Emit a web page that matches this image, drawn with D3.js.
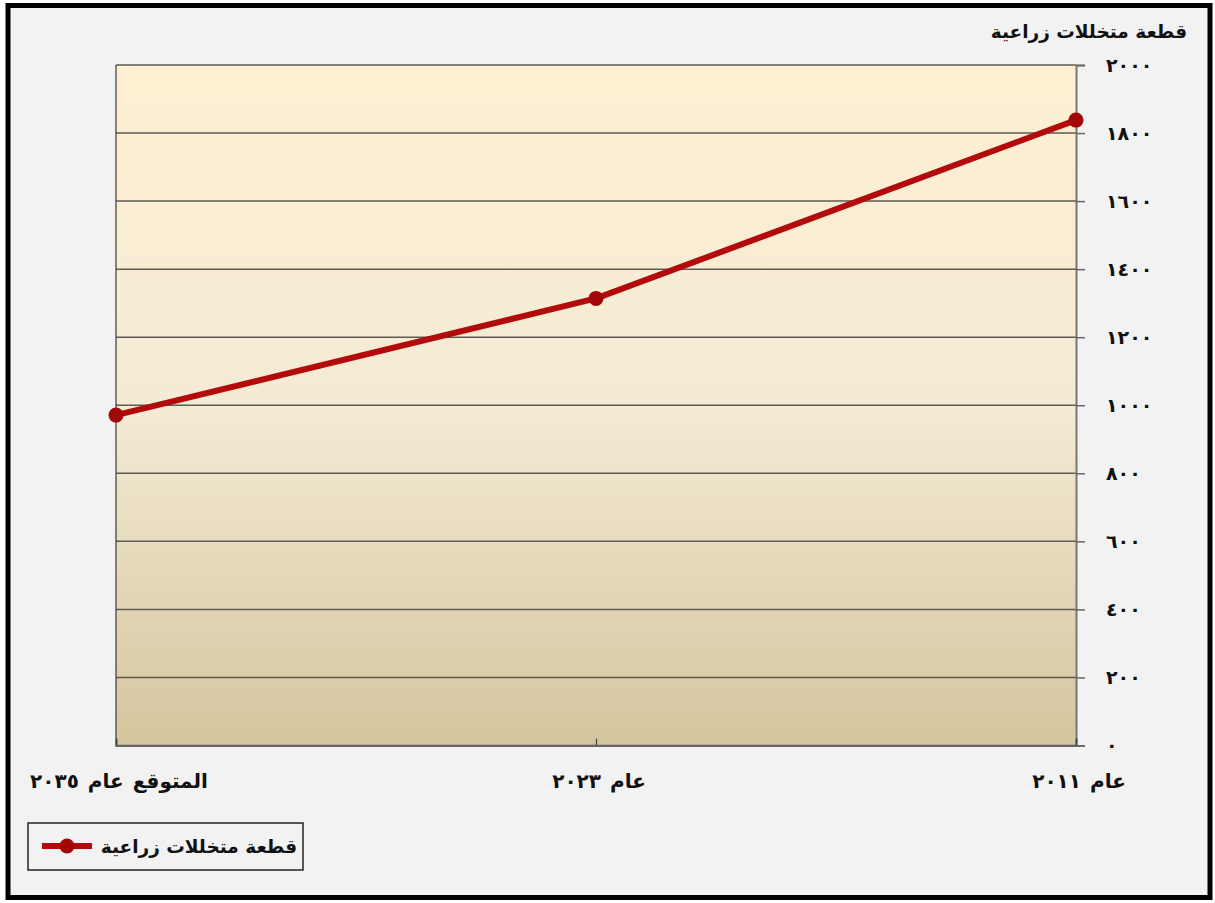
<!DOCTYPE html>
<html>
<head>
<meta charset="utf-8">
<script src="https://cdn.jsdelivr.net/npm/d3@7"></script>
<style>
  body { margin: 0; background: #fff; }
  svg { display: block; }
  text { font-family: "DejaVu Sans", sans-serif; font-weight: bold; fill: #111; }
</style>
</head>
<body>
<svg id="chart" width="1215" height="903"></svg>
<script>
// data
var categories = ["عام ٢٠١١", "عام ٢٠٢٣", "المتوقع عام ٢٠٣٥"];
var values = [1838, 1314, 971];
var yTicks = [0, 200, 400, 600, 800, 1000, 1200, 1400, 1600, 1800, 2000];
var seriesName = "قطعة متخللات زراعية";

var svg = d3.select('#chart');
var plot = { left: 116, right: 1076, top: 65, bottom: 745.5 };

// arabic-indic digits for tick labels
function arabicDigits(n) {
  var digits = '٠١٢٣٤٥٦٧٨٩';
  return String(n).replace(/[0-9]/g, function (c) { return digits[+c]; });
}

// outer frame
svg.append('rect')
  .attr('x', 8).attr('y', 5.5)
  .attr('width', 1202).attr('height', 892)
  .attr('fill', '#f2f2f2')
  .attr('stroke', '#000')
  .attr('stroke-width', 5);

// plot background gradient
var grad = svg.append('defs').append('linearGradient')
  .attr('id', 'bg').attr('x1', 0).attr('y1', 0).attr('x2', 0).attr('y2', 1);
grad.append('stop').attr('offset', '0%').attr('stop-color', '#feefd2');
grad.append('stop').attr('offset', '50%').attr('stop-color', '#f4ebd5');
grad.append('stop').attr('offset', '100%').attr('stop-color', '#d5c59e');

svg.append('rect')
  .attr('x', plot.left).attr('y', plot.top)
  .attr('width', plot.right - plot.left).attr('height', plot.bottom - plot.top)
  .attr('fill', 'url(#bg)');

var x = d3.scalePoint()
  .domain(categories)
  .range([plot.right, plot.left])
  .padding(0);

var y = d3.scaleLinear()
  .domain([0, 2000])
  .range([plot.bottom, plot.top]);

// grid lines
svg.append('g')
  .selectAll('line')
  .data(yTicks)
  .enter()
  .append('line')
  .attr('x1', plot.left).attr('x2', plot.right)
  .attr('y1', d => y(d)).attr('y2', d => y(d))
  .attr('stroke', '#5e5a52')
  .attr('stroke-width', 1.5);

// left edge of plot
svg.append('line')
  .attr('x1', plot.left).attr('x2', plot.left)
  .attr('y1', plot.top).attr('y2', plot.bottom)
  .attr('stroke', '#3a3a3a').attr('stroke-width', 1.2);

// right value axis
var yAxis = svg.append('g')
  .attr('transform', `translate(${plot.right},0)`)
  .call(d3.axisRight(y).tickValues(yTicks).tickSize(9).tickPadding(21).tickFormat(arabicDigits));
yAxis.select('.domain').attr('stroke', '#777').attr('stroke-width', 2);
yAxis.selectAll('.tick line').attr('stroke', '#666').attr('stroke-width', 1.5);
yAxis.selectAll('.tick text')
  .style('font-size', '19px')
  .style('letter-spacing', '2px')
  .style('font-family', '"DejaVu Sans", sans-serif')
  .style('font-weight', 'bold')
  .attr('fill', '#111');

// bottom category axis
var xAxis = svg.append('g')
  .attr('transform', `translate(0,${plot.bottom})`)
  .call(d3.axisBottom(x).tickSize(-7).tickFormat(''));
xAxis.select('.domain').attr('stroke', '#666').attr('stroke-width', 2);
xAxis.selectAll('.tick line').attr('stroke', '#444').attr('stroke-width', 1.2);

svg.append('g')
  .selectAll('text')
  .data(categories)
  .enter()
  .append('text')
  .attr('x', d => x(d) + 3)
  .attr('y', 788)
  .attr('text-anchor', 'middle')
  .style('font-size', '20px')
  .style('word-spacing', '2px')
  .text(d => d);

// axis title
svg.append('text')
  .attr('x', 1187).attr('y', 38)
  .attr('text-anchor', 'end')
  .style('font-size', '18.5px')
  .text(seriesName);

// series line and markers
var line = d3.line()
  .x((d, i) => x(categories[i]))
  .y(d => y(d));

svg.append('path')
  .datum(values)
  .attr('d', line)
  .attr('fill', 'none')
  .attr('stroke', '#b30b0b')
  .attr('stroke-width', 6)
  .attr('stroke-linejoin', 'round');

svg.append('g')
  .selectAll('circle')
  .data(values)
  .enter()
  .append('circle')
  .attr('cx', (d, i) => x(categories[i]))
  .attr('cy', d => y(d))
  .attr('r', 7.5)
  .attr('fill', '#a30808');

// legend
var legend = svg.append('g');
legend.append('rect')
  .attr('x', 28).attr('y', 823)
  .attr('width', 275).attr('height', 47)
  .attr('fill', '#f2f2f2')
  .attr('stroke', '#222')
  .attr('stroke-width', 1.5);
legend.append('line')
  .attr('x1', 42).attr('x2', 92)
  .attr('y1', 846).attr('y2', 846)
  .attr('stroke', '#b30b0b').attr('stroke-width', 6);
legend.append('circle')
  .attr('cx', 67).attr('cy', 846).attr('r', 7.5)
  .attr('fill', '#a30808');
legend.append('text')
  .attr('x', 297).attr('y', 853)
  .attr('text-anchor', 'end')
  .style('font-size', '18.5px')
  .text(seriesName);
</script>
</body>
</html>
